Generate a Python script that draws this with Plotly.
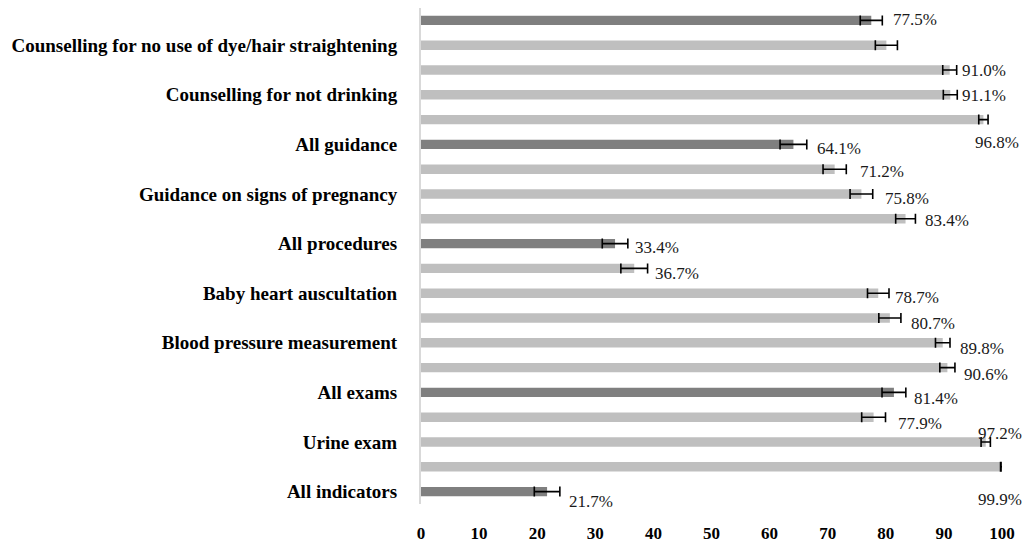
import plotly.graph_objects as go

# Coverage of antenatal care indicators (%), with 95% confidence intervals
tick_labels = [
    "",
    "Counselling for no use of dye/hair straightening",
    "",
    "Counselling for not drinking",
    "",
    "All guidance",
    "",
    "Guidance on signs of pregnancy",
    "",
    "All procedures",
    "",
    "Baby heart auscultation",
    "",
    "Blood pressure measurement",
    "",
    "All exams",
    "",
    "Urine exam",
    "",
    "All indicators",
]
values = [77.5, 80.1, 91.0, 91.1, 96.8, 64.1, 71.2, 75.8, 83.4, 33.4,
          36.7, 78.7, 80.7, 89.8, 90.6, 81.4, 77.9, 97.2, 99.9, 21.7]
ci_half = [1.9, 1.9, 1.2, 1.2, 0.8, 2.3, 2.0, 1.95, 1.7, 2.2,
           2.3, 1.85, 1.9, 1.25, 1.3, 2.05, 2.05, 0.8, 0.15, 2.2]
is_summary = [True, False, False, False, False, True, False, False, False, True,
              False, False, False, False, False, True, False, False, False, True]
show_label = [True, False, True, True, True, True, True, True, True, True,
              True, True, True, True, True, True, True, True, True, True]

# pixel nudges for the value labels (right of bar end, downward)
label_nudge = [(20, -1), (0, 0), (10, 0), (10, 1), (-10, 23), (22, 4), (23, 2),
               (22, 4), (17, 2), (18, 4), (19, 5), (15, 4), (19, 5), (15, 6),
               (15, 7), (18, 6), (22, 6), (-10, -9), (-25, 33), (20, 10)]

DARK = "#7F7F7F"
LIGHT = "#BFBFBF"
SERIF = "Liberation Serif, Times New Roman, serif"
positions = list(range(len(values)))

fig = go.Figure()
fig.add_trace(go.Bar(
    x=values,
    y=positions,
    orientation="h",
    width=0.38,
    marker=dict(color=[DARK if s else LIGHT for s in is_summary], line=dict(width=0)),
    error_x=dict(type="data", array=ci_half, visible=True,
                 color="black", thickness=1.6, width=5),
    hoverinfo="x+y",
    showlegend=False,
))

for i, (v, show) in enumerate(zip(values, show_label)):
    if not show:
        continue
    dx, dy = label_nudge[i]
    fig.add_annotation(
        x=v, y=i, xref="x", yref="y",
        text=f"{v:.1f}%",
        showarrow=False,
        xanchor="left", yanchor="middle",
        xshift=dx, yshift=-dy,
        font=dict(family=SERIF, size=17, color="#1a1a1a"),
    )

tickvals = [i for i, t in enumerate(tick_labels) if t]
ticktext = [t for t in tick_labels if t]

fig.update_layout(
    width=1024, height=544,
    margin=dict(l=421, r=22, t=8, b=40),
    paper_bgcolor="white",
    plot_bgcolor="white",
    bargap=0.62,
    xaxis=dict(
        range=[0, 100],
        tickvals=list(range(0, 101, 10)),
        showgrid=False, zeroline=False, showline=False,
        ticks="", ticklabelstandoff=17,
        tickfont=dict(family=SERIF, size=17, color="black", weight="bold"),
        automargin=False,
        fixedrange=True,
    ),
    yaxis=dict(
        range=[19.5, -0.5],
        tickvals=tickvals,
        ticktext=ticktext,
        showgrid=False, zeroline=False,
        showline=True, linecolor="#D9D9D9", linewidth=2,
        ticks="", ticklabelstandoff=18,
        tickfont=dict(family=SERIF, size=19, color="black", weight="bold"),
        automargin=False,
        fixedrange=True,
    ),
)

fig.write_html("out.html")
